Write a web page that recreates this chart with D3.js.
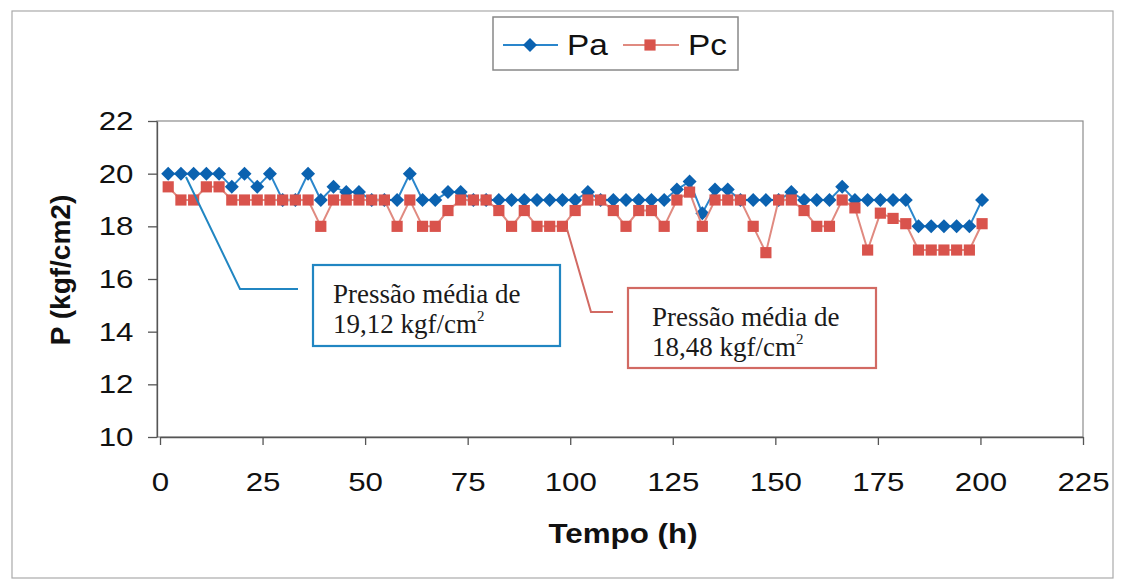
<!DOCTYPE html>
<html><head><meta charset="utf-8">
<script src="https://cdn.jsdelivr.net/npm/d3@7/dist/d3.min.js"></script>
<style>body{margin:0;background:#fff}svg{display:block}</style>
</head><body>
<svg id="c" width="1123" height="582"></svg>
<script>
const times = [2,5.1,8.2,11.3,14.4,17.5,20.6,23.7,26.8,29.9,33,36.1,39.2,42.3,45.4,48.5,51.6,
 54.7,57.8,60.9,64,67.1,70.2,73.3,76.4,79.5,82.6,85.7,88.8,91.9,95,98.1,101.2,104.3,107.4,
 110.5,113.6,116.7,119.8,122.9,126,129.1,132.2,135.3,138.4,141.5,144.6,147.7,150.8,153.9,157,160.1,163.2,
 166.3,169.4,172.5,175.6,178.7,181.8,184.9,188,191.1,194.2,197.3,200.4];
const Pa = [20,20,20,20,20,19.5,20,19.5,20,19,19,20,19,19.5,19.3,19.3,19,
 19,19,20,19,19,19.3,19.3,19,19,19,19,19,19,19,19,19,19.3,19,
 19,19,19,19,19,19.4,19.7,18.5,19.4,19.4,19,19,19,19,19.3,19,19,19,
 19.5,19,19,19,19,19,18,18,18,18,18,19];
const Pc = [19.5,19,19,19.5,19.5,19,19,19,19,19,19,19,18,19,19,19,19,
 19,18,19,18,18,18.6,19,19,19,18.6,18,18.6,18,18,18,18.6,19,19,
 18.6,18,18.6,18.6,18,19,19.3,18,19,19,19,18,17,19,19,18.6,18,18,
 19,18.7,17.1,18.5,18.3,18.1,17.1,17.1,17.1,17.1,17.1,18.1];
const xTicks = [0,25,50,75,100,125,150,175,200,225];
const yTicks = [10,12,14,16,18,20,22];
const seriesNames = ["Pa","Pc"];
const noteA = ["Pressão média de","19,12 kgf/cm"];
const noteC = ["Pressão média de","18,48 kgf/cm"];

const svg = d3.select("#c");
const L=157,R=1083,T=121,B=437;
const x = d3.scaleLinear().domain([0,225]).range([160,R]);
const y = d3.scaleLinear().domain([10,22]).range([B,T]);
const sans = "'Liberation Sans', Arial, sans-serif";
const serif = "'Liberation Serif', 'Times New Roman', serif";

// outer frame
svg.append("rect").attr("x",12).attr("y",11).attr("width",1101).attr("height",567)
  .attr("fill","none").attr("stroke","#aaa").attr("stroke-width",1.2);
// plot frame
svg.append("rect").attr("x",L).attr("y",T).attr("width",R-L).attr("height",B-T)
  .attr("fill","none").attr("stroke","#8c8c8c").attr("stroke-width",1.2);

// axes
const gx = svg.append("g").attr("transform",`translate(0,${B})`)
  .call(d3.axisBottom(x).tickValues(xTicks).tickSize(8).tickPadding(27).tickSizeOuter(0));
gx.select(".domain").attr("stroke","#555").attr("stroke-width",1.3);
gx.selectAll(".tick line").attr("stroke","#555").attr("stroke-width",1.3);
gx.selectAll(".tick text").attr("font-family",sans).attr("font-size",26.5).attr("fill","#111")
  .attr("transform","scale(1.18,1)");

const gy = svg.append("g").attr("transform",`translate(${L},0)`)
  .call(d3.axisLeft(y).tickValues(yTicks).tickSize(9).tickPadding(11).tickSizeOuter(0));
gy.select(".domain").attr("stroke","#555").attr("stroke-width",1.3);
gy.selectAll(".tick line").attr("stroke","#555").attr("stroke-width",1.3);
gy.selectAll(".tick text").attr("font-family",sans).attr("font-size",26.5).attr("fill","#111")
  .attr("transform","scale(1.18,1)");

// axis titles
svg.append("text").attr("transform","translate(623,543) scale(1.12,1)").attr("text-anchor","middle")
  .attr("font-family",sans).attr("font-weight","bold").attr("font-size",28).attr("fill","#111").text("Tempo (h)");
svg.append("text").attr("transform","translate(70,270) rotate(-90)").attr("text-anchor","middle")
  .attr("font-family",sans).attr("font-weight","bold").attr("font-size",28).attr("fill","#111").text("P (kgf/cm2)");

const colA = {line:"#2a86cc", mark:"#0b62b0"};
const colC = {line:"#e08a80", mark:"#d9534c"};
const dataA = times.map((t,i)=>({t,v:Pa[i]}));
const dataC = times.map((t,i)=>({t,v:Pc[i]}));
const line = d3.line().x(d=>x(d.t)).y(d=>y(d.v));
const diamond = d3.symbol().type(d3.symbolDiamond2).size(125);
const square = d3.symbol().type(d3.symbolSquare).size(125);

svg.append("path").datum(dataA).attr("d",line).attr("fill","none").attr("stroke",colA.line).attr("stroke-width",2);
svg.append("g").selectAll("path").data(dataA).join("path")
  .attr("transform",d=>`translate(${x(d.t)},${y(d.v)})`).attr("d",diamond).attr("fill",colA.mark);
svg.append("path").datum(dataC).attr("d",line).attr("fill","none").attr("stroke",colC.line).attr("stroke-width",2);
svg.append("g").selectAll("path").data(dataC).join("path")
  .attr("transform",d=>`translate(${x(d.t)},${y(d.v)})`).attr("d",square).attr("fill",colC.mark);

// legend
const lg = svg.append("g");
lg.append("rect").attr("x",493).attr("y",17).attr("width",245).attr("height",53)
  .attr("fill","#fff").attr("stroke","#888").attr("stroke-width",1.5);
[[503,558,530,567,colA,diamond],[623,679,650,688,colC,square]].forEach((s,i)=>{
  lg.append("line").attr("x1",s[0]).attr("x2",s[1]).attr("y1",45).attr("y2",45).attr("stroke",s[4].line).attr("stroke-width",2);
  lg.append("path").attr("transform",`translate(${s[2]},45)`).attr("d",s[5]).attr("fill",s[4].mark);
  lg.append("text").attr("transform",`translate(${s[3]},55) scale(1.15,1)`).attr("font-family",sans)
    .attr("font-size",29).attr("fill","#111").text(seriesNames[i]);
});

// callouts
function note(pts, col, bx, by, bw, bh, lines, tx){
  svg.append("path").attr("d",d3.line()(pts)).attr("fill","none").attr("stroke",col).attr("stroke-width",2);
  svg.append("rect").attr("x",bx).attr("y",by).attr("width",bw).attr("height",bh)
    .attr("fill","#fff").attr("stroke",col).attr("stroke-width",2.2);
  lines.forEach((s,i)=>{
    const t = svg.append("text").attr("x",tx).attr("y",by+38+i*30).attr("font-family",serif)
      .attr("font-size",27).attr("fill","#1a1a1a").text(s);
    if(i===1) t.append("tspan").attr("font-size",15).attr("dy",-12).text("2");
  });
}
note([[186,177],[240,289],[298,289]], "#2186c2", 313,265,247,81, noteA, 333);
note([[567,229],[591,312],[613,312]], "#d26a63", 628,288,248,80, noteC, 652);
</script>
</body></html>
